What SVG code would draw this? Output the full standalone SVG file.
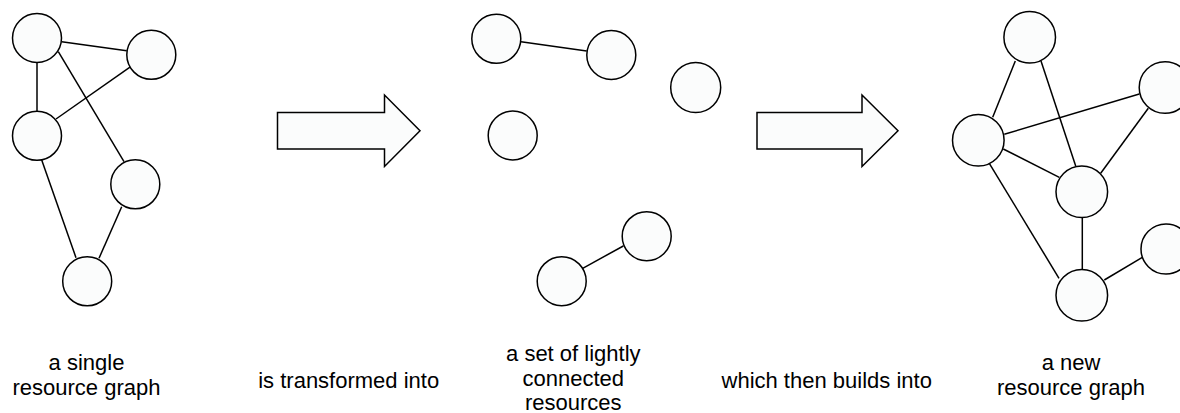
<svg xmlns="http://www.w3.org/2000/svg" width="1180" height="413" viewBox="0 0 1180 413">
<style>
.n{fill:#fbfcfc;stroke:#000;stroke-width:1.5}
.e{stroke:#000;stroke-width:1.5;fill:none}
.t{font-family:"Liberation Sans",Arial,sans-serif;font-size:22px;fill:#000;text-anchor:middle}
</style>
<rect width="1180" height="413" fill="#fff"/>
<g id="connectors">
<line class="e" x1="61.7" y1="41.7" x2="126.7" y2="50.7"/>
<line class="e" x1="37" y1="62.7" x2="37" y2="111.7"/>
<line class="e" x1="58.3" y1="51.7" x2="124" y2="161.7"/>
<line class="e" x1="130.7" y1="66.7" x2="56" y2="119"/>
<line class="e" x1="41.7" y1="160" x2="76" y2="257.7"/>
<line class="e" x1="121.7" y1="206.7" x2="99" y2="258.3"/>
<line class="e" x1="521" y1="41.7" x2="586.7" y2="51"/>
<line class="e" x1="623.3" y1="246" x2="582.7" y2="268.3"/>
<line class="e" x1="1015.3" y1="61" x2="992.7" y2="117.3"/>
<line class="e" x1="1041" y1="61" x2="1075.7" y2="166"/>
<line class="e" x1="1004.3" y1="134.3" x2="1139.3" y2="94"/>
<line class="e" x1="1003.3" y1="149" x2="1059.3" y2="177.3"/>
<line class="e" x1="1148.3" y1="108.3" x2="1100.7" y2="173.3"/>
<line class="e" x1="989.3" y1="163.3" x2="1059" y2="278.3"/>
<line class="e" x1="1082.3" y1="217.7" x2="1082.3" y2="269.3"/>
<line class="e" x1="1104.3" y1="280" x2="1142.3" y2="257.3"/>
</g>
<g id="g1a"><circle class="n" cx="37" cy="38" r="24.5"/></g>
<g id="g1b"><circle class="n" cx="151.3" cy="54.8" r="24.5"/></g>
<g id="g1c"><circle class="n" cx="37" cy="135.8" r="24.5"/></g>
<g id="g1d"><circle class="n" cx="135.3" cy="184.3" r="24.5"/></g>
<g id="g1e"><circle class="n" cx="87.2" cy="281.3" r="24.5"/></g>
<g id="m1"><circle class="n" cx="496.3" cy="38.8" r="24.5"/></g>
<g id="m2"><circle class="n" cx="611.3" cy="55" r="24.5"/></g>
<g id="m3"><circle class="n" cx="695.7" cy="87.5" r="25"/></g>
<g id="m4"><circle class="n" cx="512.7" cy="135.5" r="24.5"/></g>
<g id="m5"><circle class="n" cx="646.7" cy="236.2" r="24.5"/></g>
<g id="m6"><circle class="n" cx="561.7" cy="281.2" r="24.5"/></g>
<g id="g2f"><circle class="n" cx="1029.7" cy="37.2" r="25.8"/></g>
<g id="g2g"><circle class="n" cx="1165" cy="87.5" r="25.8"/></g>
<g id="g2h"><circle class="n" cx="978.3" cy="140.2" r="25.8"/></g>
<g id="g2i"><circle class="n" cx="1081.8" cy="191.7" r="25.8"/></g>
<g id="g2j"><circle class="n" cx="1166" cy="249" r="25"/></g>
<g id="g2k"><circle class="n" cx="1081.8" cy="295.3" r="25.8"/></g>
<g id="arrow1"><path class="n" d="M277.5,112.5 H384.5 V95 L420,130.75 L384.5,166.5 V149 H277.5 Z"/></g>
<g id="arrow2"><path class="n" d="M757,112.5 H862 V95 L898,130.75 L862,166.5 V149 H757 Z"/></g>
<g id="label1"><text class="t" x="86.5" y="370">a single</text><text class="t" x="86.5" y="395">resource graph</text></g>
<g id="label2"><text class="t" x="348.7" y="388">is transformed into</text></g>
<g id="label3"><text class="t" x="573.3" y="361">a set of lightly</text><text class="t" x="573.3" y="386">connected</text><text class="t" x="573.3" y="410">resources</text></g>
<g id="label4"><text class="t" x="826.7" y="388">which then builds into</text></g>
<g id="label5"><text class="t" x="1071" y="370">a new</text><text class="t" x="1071" y="395">resource graph</text></g>
</svg>
